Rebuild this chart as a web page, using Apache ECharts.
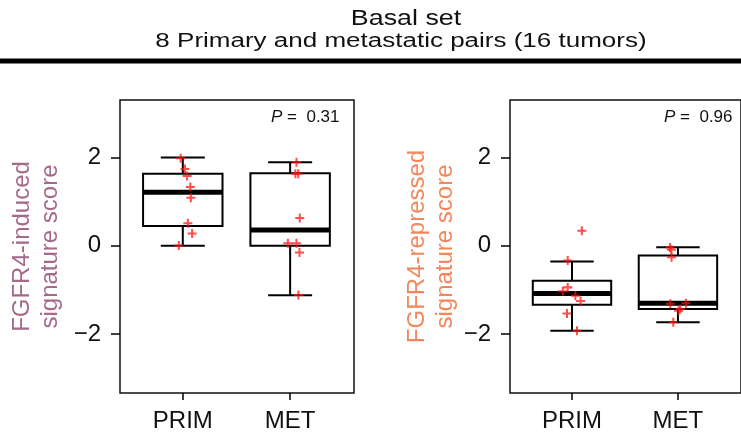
<!DOCTYPE html>
<html lang="en">
<head>
<meta charset="UTF-8">
<title>Basal set</title>
<script src="https://cdn.jsdelivr.net/npm/echarts@6/dist/echarts.min.js"></script>
<style>
  html, body { margin: 0; padding: 0; background: #fff; }
  #chart { width: 741px; height: 441px; }
</style>
</head>
<body>
<div id="chart"></div>
<script type="text/javascript">
// groups on the x axis
var groups = ['PRIM', 'MET'];
var yTicks = [-2, 0, 2];

// FGFR4-induced signature score, box stats [min, q1, median, q3, max]
var inducedStats = [[0.0, 0.45, 1.21, 1.63, 2.0], [-1.12, 0.0, 0.36, 1.64, 1.89]];
var inducedPrim = [1.98, 1.74, 1.58, 1.33, 1.09, 0.51, 0.28, 0.01];
var inducedPrimJit = [-0.02, 0.02, 0.04, 0.07, 0.075, 0.047, 0.087, -0.037];
var inducedMet = [1.89, 1.63, 1.63, 0.63, 0.06, 0.06, -0.15, -1.11];
var inducedMetJit = [0.059, 0.049, 0.075, 0.09, -0.021, 0.059, 0.087, 0.077];
var inducedP = '0.31';

// FGFR4-repressed signature score
var repressedStats = [[-1.92, -1.335, -1.08, -0.79, -0.355], [-1.73, -1.43, -1.30, -0.22, -0.03]];
var repressedPrim = [0.34, -0.33, -0.94, -1.03, -1.13, -1.25, -1.53, -1.92];
var repressedPrimJit = [0.093, -0.04, -0.04, -0.087, 0.032, 0.081, -0.047, 0.047];
var repressedMet = [-0.04, -0.09, -0.26, -1.31, -1.30, -1.43, -1.47, -1.73];
var repressedMetJit = [-0.075, -0.062, -0.06, -0.072, 0.075, 0.021, 0.006, -0.044];
var repressedP = '0.96';

var FONT = 'Liberation Sans';
var plus = 'path://M3.1,0H4.9V3.1H8V4.9H4.9V8H3.1V4.9H0V3.1H3.1Z';

function boxData(stats) {
  return stats.map(function (s, i) { return [i + 1].concat(s); });
}
function pts(vals, jit, g) {
  return vals.map(function (v, i) { return [g + jit[i], v]; });
}

function renderBox(params, api) {
  var x = api.value(0);
  var mn = api.value(1), q1 = api.value(2), md = api.value(3), q3 = api.value(4), mx = api.value(5);
  var hw = 0.37, cw = 0.205;
  function ln(x1, y1, x2, y2, w) {
    var a = api.coord([x1, y1]), b = api.coord([x2, y2]);
    return { type: 'line', shape: { x1: a[0], y1: a[1], x2: b[0], y2: b[1] },
      style: { stroke: '#000', lineWidth: w || 2 } };
  }
  var tl = api.coord([x - hw, q3]), br = api.coord([x + hw, q1]);
  return {
    type: 'group',
    children: [
      ln(x, q3, x, mx), ln(x, q1, x, mn),
      ln(x - cw, mx, x + cw, mx), ln(x - cw, mn, x + cw, mn),
      { type: 'rect', shape: { x: tl[0], y: tl[1], width: br[0] - tl[0], height: br[1] - tl[1] },
        style: { stroke: '#000', lineWidth: 2, fill: 'none' } },
      ln(x - hw, md, x + hw, md, 5)
    ]
  };
}

function xAxis(idx) {
  return {
    type: 'value', gridIndex: idx, min: 0.415, max: 2.595,
    axisLine: { show: false, onZero: false },
    splitLine: { show: false },
    axisTick: { show: true, inside: false, length: 7, customValues: [1, 2], lineStyle: { color: '#000', width: 1.5 } },
    axisLabel: { customValues: [1, 2], margin: 16, color: '#111', fontSize: 24, fontFamily: FONT,
      formatter: function (v) { return groups[Math.round(v) - 1]; } }
  };
}
function yAxis(idx, name, color, gap) {
  return {
    type: 'value', gridIndex: idx, min: -3.33, max: 3.3,
    name: name, nameLocation: 'middle', nameGap: gap, nameRotate: 90,
    nameTextStyle: { color: color, fontSize: 24, fontFamily: FONT, lineHeight: 28 },
    axisLine: { show: false, onZero: false },
    splitLine: { show: false },
    axisTick: { show: true, inside: false, length: 9, customValues: yTicks, lineStyle: { color: '#000', width: 1.5 } },
    axisLabel: { customValues: yTicks, margin: 19, color: '#111', fontSize: 24, fontFamily: FONT,
      formatter: function (v) { return v < 0 ? '\u2212' + Math.abs(v) : String(v); } }
  };
}
function pText(left, p) {
  return {
    type: 'text', left: left, top: 109,
    style: {
      text: '{i|P} =  ' + p, fontSize: 17, fontFamily: FONT, fill: '#111',
      rich: { i: { fontStyle: 'italic', fontSize: 17, fontFamily: FONT } }
    }
  };
}
function scatter(idx, data) {
  return {
    type: 'scatter', xAxisIndex: idx, yAxisIndex: idx, data: data,
    symbol: plus, symbolSize: 9, z: 5,
    itemStyle: { color: 'rgba(255,15,15,0.92)' }
  };
}
// the headings look stretched sideways in the reference
function heading(text, cx, cy, size, sx) {
  return {
    type: 'text', x: cx, y: cy, scaleX: sx,
    style: { text: text, fontSize: size, fontFamily: FONT, fill: '#111', align: 'center', verticalAlign: 'middle' }
  };
}

var chart = echarts.init(document.getElementById('chart'));
chart.setOption({
  animation: false,
  backgroundColor: '#fff',
  grid: [
    { left: 120, top: 100, width: 234, height: 293, show: true, borderColor: '#111', borderWidth: 1.5, backgroundColor: 'transparent' },
    { left: 510, top: 100, width: 234, height: 293, show: true, borderColor: '#111', borderWidth: 1.5, backgroundColor: 'transparent' }
  ],
  xAxis: [xAxis(0), xAxis(1)],
  yAxis: [
    yAxis(0, 'FGFR4-induced\nsignature score', '#a5698c', 56),
    yAxis(1, 'FGFR4-repressed\nsignature score', '#f3875b', 50)
  ],
  graphic: [
    heading('Basal set', 406, 19, 22, 1.22),
    heading('8 Primary and metastatic pairs (16 tumors)', 401, 41, 20, 1.3),
    { type: 'line', shape: { x1: 0, y1: 61, x2: 741, y2: 61 }, style: { stroke: '#000', lineWidth: 5 } },
    pText(271, inducedP),
    pText(664, repressedP)
  ],
  series: [
    { type: 'custom', xAxisIndex: 0, yAxisIndex: 0, data: boxData(inducedStats), renderItem: renderBox, z: 2 },
    { type: 'custom', xAxisIndex: 1, yAxisIndex: 1, data: boxData(repressedStats), renderItem: renderBox, z: 2 },
    scatter(0, pts(inducedPrim, inducedPrimJit, 1)),
    scatter(0, pts(inducedMet, inducedMetJit, 2)),
    scatter(1, pts(repressedPrim, repressedPrimJit, 1)),
    scatter(1, pts(repressedMet, repressedMetJit, 2))
  ]
});
</script>
</body>
</html>
